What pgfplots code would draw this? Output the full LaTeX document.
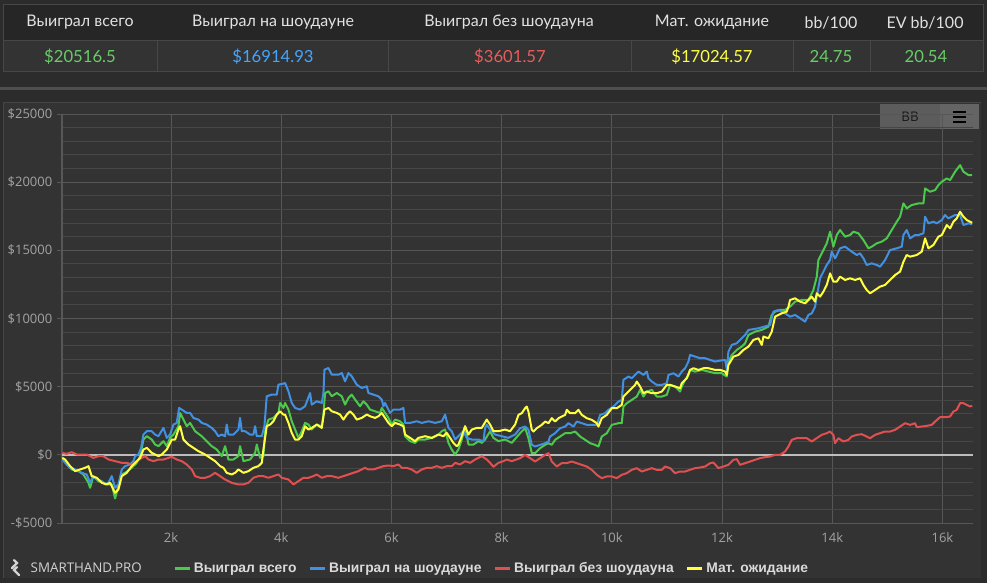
\documentclass[border=0pt]{standalone}
\usepackage{pgfplots}
\pgfplotsset{compat=1.18}
\usepackage{fontspec}
\setmainfont{Open Sans}
\newfontfamily\hdrfont{Lato}
\newfontfamily\legfont{Liberation Sans}
\newfontfamily\tickfont{Open Sans}

\definecolor{pagebg}{HTML}{2C2C2C}
\definecolor{panelbg}{HTML}{333333}
\definecolor{headbg}{HTML}{262626}
\definecolor{cellline}{HTML}{474747}
\definecolor{hdrtext}{HTML}{E2E2E2}
\definecolor{sepline}{HTML}{4E4E4E}
\definecolor{panelline}{HTML}{464646}
\definecolor{btnbg}{HTML}{5C5C5C}
\definecolor{menubg}{HTML}{646464}
\definecolor{btntext}{HTML}{191919}
\definecolor{logocol}{HTML}{D2D2D2}
\definecolor{majgrid}{HTML}{575757}
\definecolor{mingrid}{HTML}{464646}
\definecolor{zerocol}{HTML}{BDBDBD}
\definecolor{ticktext}{HTML}{A3A3A3}
\definecolor{legtext}{HTML}{DADADA}
\definecolor{cgreen}{RGB}{76,200,76}
\definecolor{cblue}{RGB}{66,144,226}
\definecolor{cred}{RGB}{224,80,80}
\definecolor{cyellow}{RGB}{255,255,64}
\definecolor{vgreen}{RGB}{104,204,104}
\definecolor{vblue}{RGB}{70,165,250}
\definecolor{vred}{RGB}{232,92,92}
\definecolor{vyellow}{RGB}{255,255,70}

\begin{document}
\begin{tikzpicture}
\begin{scope}[x=0.75pt,y=0.75pt]
% page and table (pixel units, y measured from the bottom of the 987x583 frame)
\fill[pagebg] (0,0) rectangle (987,583);
\fill[headbg] (3,542) rectangle (983,578);
\fill[panelbg] (3,511) rectangle (983,542);
\draw[cellline,line width=0.75pt] (3,511) rectangle (983,578);
\draw[cellline,line width=0.75pt] (3,542) -- (983,542);
\foreach \cx in {157,388,631,793,870}
  \draw[cellline,line width=0.75pt] (\cx,511) -- (\cx,542);
\begin{scope}[font=\hdrfont\fontsize{12}{14}\selectfont, text=hdrtext]
\node at (80,560.5) {Выиграл всего};
\node at (273,560.5) {Выиграл на шоудауне};
\node at (509,560.5) {Выиграл без шоудауна};
\node at (712,560.5) {Мат. ожидание};
\node at (831,560.5) {bb/100};
\node at (925,560.5) {EV bb/100};
\end{scope}
\begin{scope}[font=\hdrfont\fontsize{12.5}{15}\selectfont]
\node[text=vgreen] at (80,526) {\$20516.5};
\node[text=vblue] at (273,526) {\$16914.93};
\node[text=vred] at (510,526) {\$3601.57};
\node[text=vyellow] at (712,526) {\$17024.57};
\node[text=vgreen] at (831,526) {24.75};
\node[text=vgreen] at (926,526) {20.54};
\end{scope}
% separator and chart panel
\fill[sepline] (0,493) rectangle (987,495.5);
\fill[panelbg] (3,5) rectangle (981,480);
\draw[panelline,line width=0.75pt] (3,5) -- (3,480) -- (981,480);
% BB button and menu
\fill[btnbg] (880,454) rectangle (939.5,479);
\fill[menubg] (940,454) rectangle (979,479);
\node[font=\tickfont\fontsize{10}{12}\selectfont, text=btntext] at (910,466.5) {BB};
\foreach \ly in {461,466,471}
  \draw[black,line width=1.6pt] (953,\ly) -- (966,\ly);
% logo
\draw[logocol,line width=1.6pt,line cap=round]
  (12,15) -- (17,20) -- (14,23) (19,8) -- (14,13) -- (17,16);
\node[anchor=west,font=\tickfont\fontsize{10}{12}\selectfont,text=logocol] at (26,15) {SMARTHAND.PRO};
\end{scope}

\begin{axis}[
  at={(46.5pt,45pt)}, anchor=south west,
  scale only axis, width=683.25pt, height=306.75pt,
  xmin=20, xmax=16555, ymin=-5000, ymax=25000,
  scaled ticks=false,
  axis x line*=bottom, axis y line*=left,
  axis line style={draw=majgrid, line width=0.75pt},
  xtick={2000,4000,6000,8000,10000,12000,14000,16000},
  xticklabels={2k,4k,6k,8k,10k,12k,14k,16k},
  ytick={-5000,0,5000,10000,15000,20000,25000},
  yticklabels={-\$5000,\$0,\$5000,\$10000,\$15000,\$20000,\$25000},
  minor y tick num=4,
  xmajorgrids, ymajorgrids, yminorgrids,
  major grid style={draw=majgrid, line width=0.75pt},
  minor grid style={draw=mingrid, line width=0.75pt},
  tick align=outside, major tick length=3.75pt, minor tick length=0pt,
  xtick style={draw=none},
  ytick style={draw=majgrid, line width=0.75pt},
  tick label style={font=\tickfont\fontsize{9.75}{12}\selectfont, text=ticktext},
  legend columns=4,
  legend style={at={(0.472,-0.112)}, anchor=center, draw=none, fill=none,
    font=\legfont\bfseries\fontsize{10.4}{12}\selectfont, text=legtext,
    /tikz/every even column/.append style={column sep=7pt}},
  legend image code/.code={\draw[#1,line width=2.2pt] (0pt,0pt) -- (11.25pt,0pt);},
  every axis plot/.append style={line width=1.5pt, line join=round},
]
\addplot[zerocol, line width=1pt, forget plot] coordinates {(20,0) (16555,0)};

\addplot[cgreen] coordinates {
(25,-220) (106,-708) (197,-1074) (318,-1196) (409,-1440) (500,-2050) (530,-2416) (590,-1562) (681,-1928) (772,-2050) (863,-2172) (923,-2172) (984,-3200) (1044,-2294) (1105,-1440) (1165,-1318) (1286,-952) (1377,-586) (1438,-98) (1498,1122) (1559,1366) (1649,1122) (1710,756) (1770,634) (1861,1000) (1922,634) (1982,1244) (2043,1488) (2133,2098) (2164,3074) (2224,2586) (2285,2098) (2345,2342) (2436,1732) (2557,1366) (2647,1000) (2738,634) (2829,390) (2920,-98) (2980,634) (3041,-342) (3131,-342) (3222,-98) (3252,634) (3313,-464) (3434,-342) (3525,146) (3555,756) (3615,-220) (3676,-98) (3706,1732) (3767,2586) (3857,2708) (3948,3074) (3978,3806) (4039,3440)
(4069,3806) (4130,3318) (4190,2464) (4251,1854) (4311,1244) (4372,1732) (4432,2342) (4493,2220) (4553,1854) (4644,2220) (4735,2098) (4765,2952) (4795,4538) (4856,4660) (4916,4294) (5007,4538) (5098,4294) (5158,3684) (5219,4172) (5279,4416) (5340,4050) (5430,3562) (5491,3928) (5551,3684) (5612,3318) (5703,3196) (5793,3074) (5824,3440) (5884,3074) (5945,2708) (6005,2220) (6066,2586) (6156,2464) (6217,2220) (6247,1366) (6338,1000) (6429,878) (6489,1122) (6610,1122) (6731,1244) (6852,1488) (6913,1732) (6973,1854) (7034,878) (7094,390) (7155,24) (7215,390) (7276,1122) (7336,2098) (7397,756) (7487,756) (7578,1000) (7639,878) (7699,1122) (7790,1732) (7850,1244) (7941,1000) (8062,1122) (8183,878)
(8335,1588) (8426,1954) (8486,1222) (8547,122) (8607,122) (8698,489) (8789,733) (8849,855) (8910,733) (8970,1099) (9061,1344) (9152,1588) (9242,1588) (9333,1710) (9424,1344) (9515,1099) (9605,855) (9696,733) (9757,611) (9817,1344) (9908,1588) (9999,2199) (10120,2321) (10180,2321) (10210,3542) (10271,3787) (10362,4031) (10452,4275) (10513,4764) (10573,4275) (10634,4642) (10725,4764) (10815,4275) (10906,4275) (10997,4397) (11057,5130) (11148,5008) (11239,4642) (11269,5008) (11330,5497) (11390,5863) (11420,6230) (11511,6108) (11632,6230) (11753,6108) (11874,5985) (11995,5985) (12086,5741) (12116,6840) (12177,7329) (12267,7695) (12358,7940)
(12418,8184) (12479,8795) (12600,9039) (12721,9161) (12842,9406) (12902,10261) (12963,10505) (13053,10627) (13144,10627) (13235,10871) (13326,11238) (13447,11360) (13568,11360) (13658,12093) (13719,13070) (13749,14292) (13840,15024) (13900,15513) (13961,16368) (14021,15269) (14082,16124) (14142,16490) (14233,16002) (14324,16124) (14384,16368) (14475,16246) (14566,15757) (14657,15147) (14717,15269) (14808,15513) (14899,15635) (14989,15880) (15080,16490) (15171,17101) (15231,17467) (15292,18445) (15352,18078) (15443,18323) (15564,18445) (15655,18445) (15685,19544) (15776,19300) (15867,19422) (15927,19788) (15988,20033) (16079,20277) (16139,20155) (16230,20766) (16320,21254) (16381,20766) (16472,20521) (16540,20517)
};
\addlegendentry{Выиграл всего}

\addplot[cblue] coordinates {
(25,-342) (137,-830) (258,-1074) (379,-1318) (469,-1440) (530,-2050) (590,-1562) (651,-1806) (742,-1928) (802,-2172) (863,-2050) (923,-1562) (984,-2416) (1044,-2172) (1105,-1074) (1165,-830) (1256,-708) (1317,-464) (1347,-98) (1407,24) (1456,512) (1498,1488) (1559,1732) (1649,1732) (1710,1488) (1770,1366) (1861,1976) (1922,1244) (1982,1488) (2043,2220) (2103,2342) (2145,3440) (2194,3318) (2285,3074) (2345,3074) (2405,2708) (2496,2586) (2557,2342) (2647,2220) (2738,1976) (2799,1732) (2859,1366) (2920,1488) (2980,1366) (3010,2220) (3041,1488) (3131,1488) (3222,1854) (3252,2708) (3283,1732) (3343,1732) (3434,1488) (3494,1488) (3525,2098) (3555,1366) (3646,1366) (3694,2098) (3736,4294) (3827,4416) (3918,4416) (3948,5148) (4039,5222)
(4069,5270) (4130,4660) (4190,3806) (4251,3440) (4341,3318) (4432,3562) (4523,4538) (4553,3684) (4644,3928) (4735,3806) (4765,4538) (4783,6246) (4856,6368) (4916,5880) (5037,5880) (5098,6002) (5158,5392) (5219,6002) (5279,5758) (5370,5148) (5461,4904) (5551,5026) (5582,4538) (5672,4416) (5763,4294) (5824,4050) (5854,3562) (5884,3806) (5975,3074) (6035,3318) (6156,3318) (6217,3440) (6247,2342) (6338,2342) (6459,2464) (6550,2342) (6671,2464) (6792,2342) (6913,2464) (6973,2952) (7034,1976) (7094,1732) (7155,1122) (7215,1366) (7306,1732) (7366,1244) (7457,1122) (7578,1122) (7669,1000) (7699,1976) (7729,2220) (7790,1854) (7881,1488) (8002,1366) (8123,1244) (8244,1488)
(8335,1954) (8426,2077) (8486,1832) (8547,733) (8607,611) (8698,733) (8789,855) (8849,977) (8879,1344) (8970,1588) (9061,1954) (9152,2077) (9212,2321) (9303,2077) (9363,2443) (9454,2321) (9545,2199) (9666,2199) (9726,2199) (9787,2932) (9878,3054) (9938,3298) (10029,3542) (10120,3909) (10180,4031) (10210,5497) (10301,5741) (10362,5619) (10422,5863) (10483,6108) (10573,5863) (10634,6108) (10664,5619) (10725,5375) (10815,5130) (10906,5130) (10997,5252) (11027,5863) (11118,5985) (11209,5741) (11269,6108) (11330,6352) (11390,6840) (11420,7329) (11511,7207) (11602,7085) (11693,7085) (11783,6963) (11874,6840) (11965,6914) (12056,6963) (12086,6230) (12116,7573) (12177,8062) (12267,8184) (12358,8551)
(12418,8795) (12479,9161) (12660,9283) (12872,9528) (12932,10505) (13023,10627) (13144,10383) (13235,10138) (13326,10261) (13416,10016) (13507,9772) (13568,10261) (13628,10383) (13689,10871) (13719,11604) (13779,12948) (13840,13437) (13900,13925) (13961,14292) (13991,14902) (14052,14414) (14142,15147) (14233,15269) (14354,14902) (14445,14658) (14505,14780) (14566,14414) (14626,13925) (14717,14047) (14808,13925) (14868,13803) (14959,14292) (15050,15024) (15171,15147) (15262,15269) (15292,16124) (15352,16490) (15413,15880) (15504,16124) (15564,16124) (15655,16246) (15685,17467) (15746,16979) (15836,17101) (15897,16979) (15988,17223) (16048,17590) (16109,17345) (16169,17467) (16230,17590) (16320,17590) (16381,16857) (16472,16979) (16540,16915)
};
\addlegendentry{Выиграл на шоудауне}

\addplot[cred] coordinates {
(25,146) (106,73) (197,195) (288,24) (379,24) (469,24) (530,-98) (590,-220) (681,-98) (772,-98) (863,-342) (984,-464) (1105,-586) (1195,-586) (1286,-708) (1377,-464) (1468,-220) (1528,-98) (1589,-342) (1680,-464) (1770,-342) (1861,-342) (1952,-220) (2012,-146) (2103,-342) (2194,-464) (2285,-708) (2375,-1074) (2436,-1562) (2526,-1684) (2617,-1684) (2708,-1562) (2799,-1318) (2889,-1562) (2980,-1806) (3101,-2050) (3222,-2172) (3313,-2172) (3404,-2050) (3494,-1684) (3585,-1562) (3676,-1562) (3767,-1684) (3857,-1562) (3948,-1440) (4009,-1684)
(4130,-1806) (4220,-2172) (4311,-1928) (4402,-1684) (4493,-1684) (4583,-1562) (4644,-1440) (4735,-1684) (4825,-1562) (4916,-1562) (5037,-1684) (5128,-1562) (5219,-1440) (5309,-1318) (5400,-1196) (5521,-952) (5582,-1074) (5672,-1074) (5763,-952) (5854,-830) (5945,-781) (6035,-830) (6126,-708) (6187,-952) (6277,-952) (6368,-1074) (6459,-1318) (6550,-1074) (6640,-952) (6731,-952) (6822,-830) (6913,-952) (7003,-830) (7094,-830) (7155,-586) (7245,-708) (7336,-464) (7427,-586) (7518,-342) (7578,-220) (7639,-98) (7729,-342) (7790,-586) (7850,-878) (7941,-586) (8032,-464) (8092,-342) (8183,-464)
(8335,-244) (8426,0) (8516,-244) (8607,-489) (8698,-244) (8789,0) (8849,122) (8910,-489) (9000,-855) (9091,-611) (9182,-611) (9273,-489) (9363,-611) (9454,-733) (9545,-855) (9636,-1099) (9726,-1466) (9817,-1710) (9908,-1588) (9999,-1588) (10089,-1710) (10180,-1466) (10271,-1344) (10362,-1099) (10452,-977) (10543,-1222) (10634,-1099) (10725,-977) (10815,-1099) (10906,-1099)
(10966,-855) (11057,-977) (11147,-1344) (11238,-1222) (11329,-1222) (11420,-1099) (11510,-977) (11601,-928) (11692,-855) (11783,-611) (11843,-562) (11934,-977) (12025,-855) (12115,-733) (12206,-366) (12267,-318) (12327,-733) (12418,-611) (12509,-489) (12599,-366) (12690,-244) (12781,-171) (12871,-122) (12962,0) (13053,0) (13144,244) (13204,611) (13265,1099) (13356,1222) (13446,1222) (13537,1222) (13628,977) (13719,1222) (13809,1466) (13900,1588) (13961,1710) (14021,1466) (14051,855) (14112,1222) (14203,977) (14293,1099) (14354,1344) (14445,1466) (14535,1515) (14626,1344) (14687,1222) (14777,1466) (14868,1588) (14959,1710) (15050,1710) (15140,1832) (15231,2077) (15322,2321) (15413,2199) (15503,2321) (15534,2028) (15624,2077) (15715,2125) (15806,2199) (15866,2443) (15957,2761) (16048,2761) (16139,2810) (16199,3176) (16260,3298) (16320,3787) (16381,3787) (16441,3665) (16502,3542) (16540,3602)
};
\addlegendentry{Выиграл без шоудауна}

\addplot[cyellow] coordinates {
(25,-220) (76,-342) (167,-830) (258,-1196) (348,-1074) (439,-952) (500,-830) (560,-1562) (651,-1684) (742,-2050) (832,-2172) (893,-2050) (984,-2782) (1044,-2538) (1105,-1562) (1195,-1318) (1286,-830) (1377,-464) (1438,-220) (1498,390) (1559,512) (1649,146) (1710,24) (1770,-98) (1831,24) (1922,390) (1982,878) (2012,1122) (2073,1122) (2133,1854) (2164,2098) (2224,1122) (2315,756) (2405,512) (2496,268) (2617,24) (2708,-220) (2799,-464) (2889,-830) (2950,-952) (3010,-1318) (3101,-1440) (3162,-1318) (3222,-1074) (3313,-1318) (3404,-1196) (3494,-952) (3585,-830) (3646,-586) (3676,390) (3736,2098) (3797,2220) (3857,2464) (3918,2952) (3978,3196) (4039,2952)
(4069,2952) (4130,2342) (4190,1610) (4251,1122) (4311,1122) (4372,1366) (4432,2098) (4493,1854) (4553,1976) (4644,2220) (4735,1976) (4783,3318) (4856,3440) (4916,3196) (5007,3074) (5067,2952) (5128,2586) (5188,2952) (5249,3196) (5309,2952) (5370,2586) (5461,2708) (5551,2952) (5612,2830) (5703,2708) (5763,2830) (5824,3074) (5884,2708) (5945,2342) (6005,2098) (6066,2342) (6156,2220) (6217,2098) (6247,1488) (6338,1244) (6429,1000) (6489,1244) (6610,1366) (6731,1244) (6852,1488) (6943,1366) (7003,1610) (7064,1244) (7124,878) (7185,634) (7215,756) (7276,1366) (7336,2098) (7397,1488) (7457,1854) (7548,1976) (7639,1976) (7729,2586) (7790,2220) (7850,1732) (7941,1732) (8062,1854) (8153,1732) (8244,2220)
(8305,2932) (8365,3054) (8426,3420) (8456,3542) (8486,3176) (8547,1832) (8577,1710) (8637,1954) (8728,2199) (8789,2443) (8849,2321) (8910,2687) (8970,2443) (9031,2687) (9091,2809) (9152,2932) (9182,3298) (9242,3054) (9333,3054) (9394,3298) (9454,2932) (9545,2687) (9636,2565) (9726,2321) (9757,2077) (9817,2687) (9908,2932) (9999,3420) (10089,3420) (10180,3665) (10210,4275) (10271,4520) (10331,4764) (10422,5130) (10452,5375) (10513,5008) (10573,4520) (10634,4642) (10725,4520) (10815,4520) (10906,4642) (10997,5130) (11057,5130) (11148,5008) (11239,4886) (11269,5252) (11360,5619) (11420,6230) (11481,6352) (11572,6230) (11662,6352) (11753,6352) (11874,6230) (11965,6230) (12056,6108) (12086,5863) (12116,6596) (12207,7207) (12298,7329) (12388,7695)
(12479,7940) (12569,8428) (12660,8551) (12721,8062) (12751,8673) (12842,8551) (12902,9039) (12963,10138) (13084,10383) (13174,10505) (13205,10871) (13235,11360) (13326,11482) (13416,11238) (13507,11116) (13568,11360) (13628,11604) (13689,11238) (13719,11849) (13779,11604) (13840,11971) (13900,12459) (13961,13314) (14021,12704) (14082,12704) (14142,13070) (14233,12826) (14324,12948) (14415,12826) (14505,12948) (14566,12459) (14626,12093) (14687,11849) (14778,12093) (14868,12337) (14959,12459) (15050,12826) (15141,13192) (15231,13437) (15292,14169) (15352,14658) (15413,14536) (15534,14658) (15625,14902) (15685,15880) (15746,15147) (15836,15391) (15927,16002) (15988,16124) (16048,16612) (16079,16857) (16139,16612) (16199,17101) (16260,17345) (16320,17834) (16381,17467) (16441,17223) (16540,17025)
};
\addlegendentry{Мат. ожидание}
\end{axis}
\end{tikzpicture}
\end{document}
